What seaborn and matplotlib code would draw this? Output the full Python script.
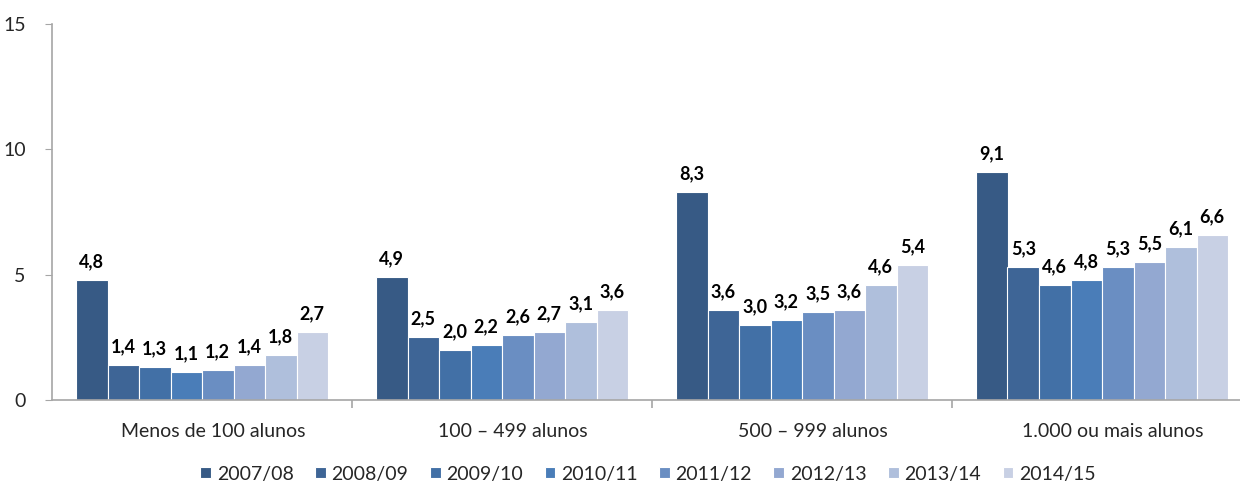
import pandas as pd
import matplotlib
matplotlib.use("Agg")
import matplotlib.pyplot as plt
import matplotlib.transforms as mtransforms
import seaborn as sns

# ===================== DADOS =====================
categorias = ["Menos de 100 alunos", "100 – 499 alunos", "500 – 999 alunos", "1.000 ou mais alunos"]
anos = ["2007/08", "2008/09", "2009/10", "2010/11", "2011/12", "2012/13", "2013/14", "2014/15"]
menos_100 = [4.8, 1.4, 1.3, 1.1, 1.2, 1.4, 1.8, 2.7]
de_100_499 = [4.9, 2.5, 2.0, 2.2, 2.6, 2.7, 3.1, 3.6]
de_500_999 = [8.3, 3.6, 3.0, 3.2, 3.5, 3.6, 4.6, 5.4]
mais_1000 = [9.1, 5.3, 4.6, 4.8, 5.3, 5.5, 6.1, 6.6]

cores = ["#375A85", "#3E6596", "#4270A6", "#4A7DB8",
         "#6A8EC2", "#93A8D1", "#AFBFDC", "#C8D0E4"]

series = [menos_100, de_100_499, de_500_999, mais_1000]
df = pd.DataFrame([
    {"categoria": cat, "ano": ano, "valor": v}
    for cat, vals in zip(categorias, series)
    for ano, v in zip(anos, vals)
])

# ===================== GRÁFICO =====================
sns.set_style("white")
plt.rcParams["font.family"] = ["Lato", "DejaVu Sans"]

fig = plt.figure(figsize=(12.4, 4.86), dpi=100)
ax = fig.add_axes([52 / 1240, 1 - 400 / 486, 1200 / 1240, 376 / 486])

sns.barplot(data=df, x="categoria", y="valor", hue="ano", palette=cores,
            width=0.84, ax=ax, edgecolor="white", linewidth=0.8,
            saturation=1, legend=True)

ax.set_xlim(-0.5, 3.5)
ax.set_ylim(0, 15)
ax.set_yticks([0, 5, 10, 15])
ax.set_xlabel("")
ax.set_ylabel("")

for cont in ax.containers:
    labels = [f"{b.get_height():.1f}".replace(".", ",") for b in cont]
    ax.bar_label(cont, labels=labels, padding=7, fontsize=13,
                 fontweight="bold", color="black")

for sp in ["top", "right"]:
    ax.spines[sp].set_visible(False)
for sp in ["left", "bottom"]:
    ax.spines[sp].set_color("#A6A6A6")
    ax.spines[sp].set_linewidth(1.2)

ax.tick_params(axis="y", left=True, length=5, color="#A6A6A6",
               labelsize=14, pad=14)
ax.tick_params(axis="x", bottom=False, labelsize=14, pad=13)
ax.set_xticks([0.5, 1.5, 2.5], minor=True)
ax.tick_params(axis="x", which="minor", bottom=True, length=6,
               color="#A6A6A6", width=1.2)

# rótulos das categorias ligeiramente deslocados para a direita
shift = mtransforms.ScaledTranslation(11 / 100, 0, fig.dpi_scale_trans)
for lbl in ax.get_xticklabels():
    lbl.set_transform(lbl.get_transform() + shift)

leg = ax.legend(loc="center", bbox_to_anchor=(0.5 - 4 / 1200, -74 / 376),
                ncol=8, frameon=False, fontsize=14, handlelength=0.55,
                handleheight=0.55, handletextpad=0.3, columnspacing=1.1)

plt.savefig("out.png", dpi=100)
plt.close()
